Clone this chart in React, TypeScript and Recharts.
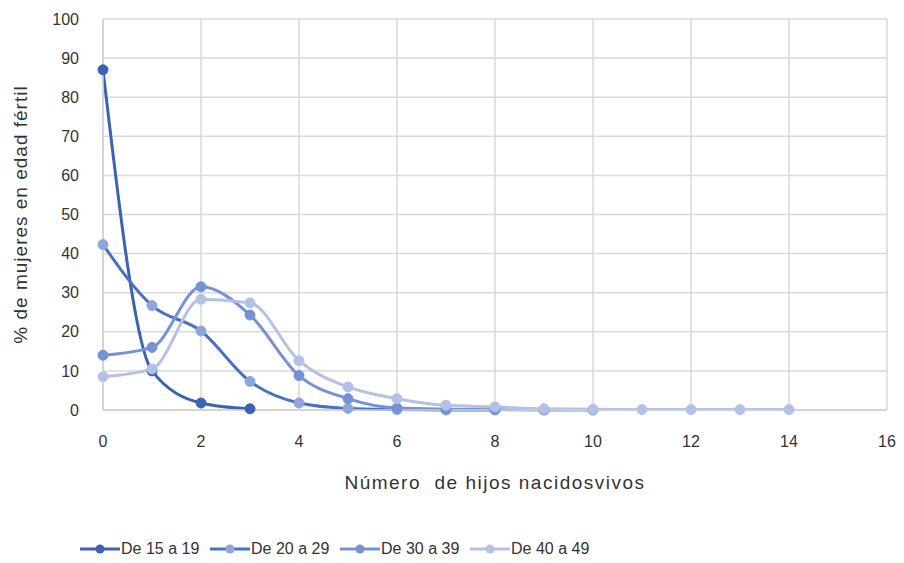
import React from 'react';
import { LineChart, Line, XAxis, YAxis, CartesianGrid, Legend } from 'recharts';

const hijos = [0, 1, 2, 3, 4, 5, 6, 7, 8, 9, 10, 11, 12, 13, 14];
const de15a19 = [87, 10, 1.8, 0.3];
const de20a29 = [42.3, 26.7, 20.2, 7.3, 1.8, 0.4, 0.1, 0, 0];
const de30a39 = [14, 16, 31.5, 24.3, 8.8, 2.9, 0.5, 0.2, 0.1, 0, 0];
const de40a49 = [8.5, 10.5, 28.3, 27.4, 12.6, 5.9, 2.9, 1.2, 0.8, 0.3, 0.2, 0.1, 0.1, 0.1, 0.1];

const xTicks = [0, 2, 4, 6, 8, 10, 12, 14, 16];
const yTicks = [0, 10, 20, 30, 40, 50, 60, 70, 80, 90, 100];

const series = [
  { key: 'a', name: 'De 15 a 19', values: de15a19, line: '#3b63b1', dot: '#3b63b1' },
  { key: 'b', name: 'De 20 a 29', values: de20a29, line: '#4a70c1', dot: '#8ea6db' },
  { key: 'c', name: 'De 30 a 39', values: de30a39, line: '#7692d5', dot: '#7692d5' },
  { key: 'd', name: 'De 40 a 49', values: de40a49, line: '#b3c1e6', dot: '#b3c1e6' },
];

const data = hijos.map((x, i) => {
  const row: Record<string, number | null> = { x };
  series.forEach(s => {
    row[s.key] = i < s.values.length ? s.values[i] : null;
  });
  return row;
});

const font = '"Liberation Sans", Arial, sans-serif';

const LegendContent = () => (
  <div style={{ display: 'flex', fontFamily: font, fontSize: 16, color: '#333', height: 18 }}>
    {series.map(s => (
      <div key={s.key} style={{ display: 'flex', alignItems: 'center', width: 130 }}>
        <svg width={40} height={14} style={{ marginRight: 1 }}>
          <line x1={0} y1={7} x2={40} y2={7} stroke={s.line} strokeWidth={3} />
          <circle cx={20} cy={7} r={4.5} fill={s.dot} />
        </svg>
        <span>{s.name}</span>
      </div>
    ))}
  </div>
);

export default function App() {
  return (
    <div style={{ position: 'absolute', left: 0, top: 0, width: 904, height: 563, background: '#fff' }}>
      <LineChart width={904} height={563} data={data} margin={{ top: 19, right: 17, left: 0, bottom: 0 }}>
        <CartesianGrid stroke="#d9d9d9" strokeWidth={1.5} />
        <XAxis
          dataKey="x"
          type="number"
          domain={[0, 16]}
          ticks={xTicks}
          interval={0}
          tickLine={false}
          axisLine={{ stroke: '#d0d0d0', strokeWidth: 1.5 }}
          tick={{ fill: '#333', fontSize: 16, fontFamily: font }}
          tickMargin={20}
          height={135}
          label={{ value: 'Número\u00a0 de hijos nacidosvivos', position: 'insideTop', offset: 66, fill: '#333', fontSize: 19, fontFamily: font, style: { letterSpacing: 1.5 } }}
        />
        <YAxis
          type="number"
          domain={[0, 100]}
          ticks={yTicks}
          interval={0}
          tickLine={false}
          axisLine={{ stroke: '#d0d0d0', strokeWidth: 1.5 }}
          tick={{ fill: '#333', fontSize: 16, fontFamily: font }}
          tickMargin={18}
          width={103}
          label={{ value: '% de mujeres en edad fértil', angle: -90, position: 'insideLeft', offset: 20, fill: '#333', fontSize: 19, fontFamily: font, style: { textAnchor: 'middle', letterSpacing: 1 } }}
        />
        <Legend content={<LegendContent />} wrapperStyle={{ left: 80, top: 540, width: 560 }} />
        {series.map(s => (
          <Line
            key={s.key}
            type="monotone"
            dataKey={s.key}
            name={s.name}
            stroke={s.line}
            strokeWidth={3}
            dot={{ r: 5, fill: s.dot, stroke: s.dot, strokeWidth: 1 }}
            activeDot={false}
            connectNulls={false}
            isAnimationActive={false}
          />
        ))}
      </LineChart>
    </div>
  );
}
